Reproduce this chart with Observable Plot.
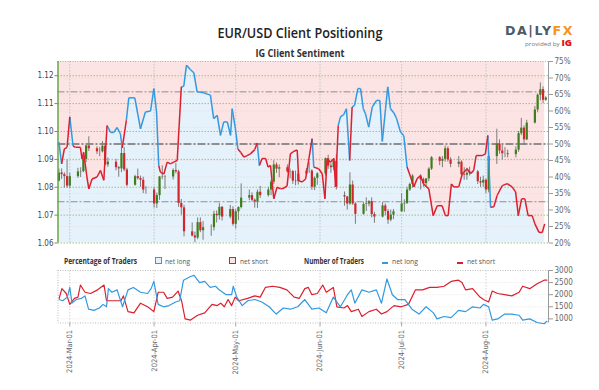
<!DOCTYPE html>
<html><head><meta charset="utf-8">
<script src="https://cdn.jsdelivr.net/npm/d3@7"></script>
<script src="https://cdn.jsdelivr.net/npm/@observablehq/plot@0.6"></script>
<style>
body{margin:0;background:#fff;font-family:"Open Sans",Lato,"DejaVu Sans",sans-serif;}
#wrap{position:relative;width:599px;height:390px;overflow:hidden;background:#fff;}
#wrap svg{position:absolute;left:0;top:0;}
.t{position:absolute;white-space:nowrap;line-height:1;}
.f{display:inline-block;white-space:nowrap;}
</style></head><body><div id="wrap">
<div class="t" style="left:0;width:599px;text-align:center;top:25px;font-size:15px;"><span class="f" id="title" style="font-weight:600;color:#222;"></span></div>
<div class="t" style="left:0;width:599px;text-align:center;top:48px;font-size:10.5px;"><span class="f" id="subtitle" style="font-weight:700;color:#333;"></span></div>
<div class="t" style="left:505px;top:25px;font-size:12.5px;"><span class="f" id="logo" style="font-weight:800;letter-spacing:1.5px;color:#4d5a68;font-family:'DejaVu Sans',sans-serif;">DA|LY<span style="color:#f7941d">FX</span></span></div>
<div class="t" style="left:525px;top:39px;font-size:8.5px;"><span class="f" id="provided" style="font-size:5.5px;color:#777;">provided by <span style="color:#e3111b;font-weight:800;font-size:8.5px">IG</span></span></div>
<div id="legend"></div>
</div>
<script>
// ---------- text ----------
const title = "EUR/USD Client Positioning";
const subtitle = "IG Client Sentiment";
const legendPctLabel = "Percentage of Traders";
const legendCountLabel = "Number of Traders";
const seriesLabels = ["net long", "net short"];

// ---------- ticks ----------
const priceTicks = [1.06, 1.07, 1.08, 1.09, 1.10, 1.11, 1.12];
const pctTicks = [20, 25, 30, 35, 40, 45, 50, 55, 60, 65, 70, 75];
const countTicks = [1000, 1500, 2000, 2500, 3000];
const monthTicks = ["2024-03-01", "2024-04-01", "2024-05-01", "2024-06-01", "2024-07-01", "2024-08-01"];
const sentimentLevels = [65.8, 32.5];
const midLevel = 50;

// ---------- price candles (weekdays from 2024-02-26) ----------
const firstTradingDay = "2024-02-26";
const opens = [
1.0822,1.0851,1.0845,1.0838,1.0804, 1.0838,1.0855,1.0856,1.0900,1.0948, 1.0938,1.0927,1.0927,1.0947,1.0880,
1.0890,1.0870,1.0866,1.0921,1.0862, 1.0807,1.0838,1.0831,1.0825,1.0790, 1.0790,1.0740,1.0770,1.0837,1.0836,
1.0837,1.0860,1.0855,1.0742,1.0726, 1.0640,1.0625,1.0618,1.0673,1.0644, 1.0655,1.0655,1.0703,1.0698,1.0728,
1.0693,1.0720,1.0667,1.0712,1.0727, 1.0761,1.0770,1.0753,1.0748,1.0782, 1.0770,1.0790,1.0818,1.0880,1.0865,
1.0870,1.0855,1.0856,1.0822,1.0820, 1.0847,1.0858,1.0858,1.0800,1.0832, 1.0848,1.0902,1.0876,1.0870,1.0893,
1.0770,1.0765,1.0740,1.0808,1.0740, 1.0703,1.0738,1.0740,1.0748,1.0702, 1.0693,1.0733,1.0713,1.0682,1.0700,
1.0712,1.0740,1.0742,1.0790,1.0810, 1.0840,1.0827,1.0813,1.0830,1.0865, 1.0906,1.0893,1.0900,1.0938,1.0898,
1.0882,1.0890,1.0845,1.0843,1.0850, 1.0855,1.0820,1.0815,1.0825,1.0790, 1.0910,1.0955,1.0930,1.0920,1.0920,
1.0917,1.0933,1.0992,1.1012,1.0970, 1.1030,1.1077,1.1130,1.1150,1.1112];
const highs = [
1.0865,1.0866,1.0852,1.0898,1.0850, 1.0868,1.0870,1.0912,1.0950,1.0981, 1.0945,1.0942,1.0964,1.0957,1.0905,
1.0900,1.0875,1.0943,1.0942,1.0868, 1.0843,1.0865,1.0840,1.0836,1.0802, 1.0800,1.0779,1.0838,1.0877,1.0842,
1.0866,1.0885,1.0861,1.0756,1.0735, 1.0672,1.0639,1.0690,1.0690,1.0677, 1.0665,1.0714,1.0715,1.0742,1.0731,
1.0735,1.0730,1.0720,1.0730,1.0812, 1.0790,1.0780,1.0758,1.0790,1.0803, 1.0800,1.0825,1.0895,1.0887,1.0880,
1.0880,1.0865,1.0860,1.0858,1.0858, 1.0867,1.0889,1.0863,1.0837,1.0852, 1.0905,1.0915,1.0887,1.0902,1.0916,
1.0783,1.0767,1.0852,1.0822,1.0745, 1.0745,1.0762,1.0752,1.0762,1.0710, 1.0745,1.0740,1.0720,1.0718,1.0720,
1.0777,1.0755,1.0800,1.0815,1.0845, 1.0845,1.0833,1.0830,1.0870,1.0910, 1.0910,1.0910,1.0948,1.0945,1.0906,
1.0910,1.0895,1.0870,1.0868,1.0872, 1.0860,1.0836,1.0840,1.0830,1.0926, 1.1008,1.0970,1.0950,1.0942,1.0933,
1.0945,1.1000,1.1047,1.1020,1.1040, 1.1090,1.1135,1.1174,1.1160,1.1125];
const lows = [
1.0819,1.0828,1.0797,1.0796,1.0795, 1.0832,1.0835,1.0852,1.0888,1.0928, 1.0917,1.0910,1.0923,1.0877,1.0871,
1.0859,1.0836,1.0852,1.0856,1.0801, 1.0804,1.0826,1.0800,1.0777,1.0775, 1.0725,1.0724,1.0753,1.0827,1.0792,
1.0826,1.0848,1.0728,1.0700,1.0622, 1.0622,1.0601,1.0612,1.0637,1.0610, 1.0624,1.0643,1.0672,1.0682,1.0679,
1.0686,1.0660,1.0650,1.0680,1.0722, 1.0752,1.0747,1.0725,1.0724,1.0760, 1.0765,1.0770,1.0810,1.0850,1.0834,
1.0850,1.0830,1.0810,1.0805,1.0808, 1.0845,1.0850,1.0789,1.0788,1.0807, 1.0840,1.0864,1.0850,1.0859,1.0790,
1.0732,1.0718,1.0735,1.0735,1.0667, 1.0700,1.0713,1.0730,1.0690,1.0671, 1.0690,1.0698,1.0667,1.0676,1.0684,
1.0710,1.0710,1.0738,1.0785,1.0797, 1.0790,1.0800,1.0800,1.0820,1.0860, 1.0877,1.0870,1.0890,1.0890,1.0870,
1.0870,1.0840,1.0825,1.0825,1.0840, 1.0810,1.0800,1.0800,1.0777,1.0780, 1.0882,1.0918,1.0897,1.0906,1.0905,
1.0905,1.0925,1.0985,1.0950,1.0967, 1.1027,1.1067,1.1110,1.1100,1.1108];
const closes = [
1.0851,1.0845,1.0838,1.0804,1.0838, 1.0855,1.0856,1.0900,1.0948,1.0938, 1.0927,1.0927,1.0947,1.0880,1.0890,
1.0870,1.0866,1.0921,1.0862,1.0807, 1.0838,1.0831,1.0825,1.0790,1.0790, 1.0740,1.0770,1.0837,1.0836,1.0837,
1.0860,1.0855,1.0742,1.0726,1.0640, 1.0625,1.0618,1.0673,1.0644,1.0655, 1.0655,1.0703,1.0698,1.0728,1.0693,
1.0720,1.0667,1.0712,1.0727,1.0761, 1.0770,1.0753,1.0748,1.0782,1.0770, 1.0790,1.0818,1.0880,1.0865,1.0870,
1.0855,1.0856,1.0822,1.0820,1.0847, 1.0858,1.0858,1.0800,1.0832,1.0848, 1.0902,1.0876,1.0870,1.0893,1.0800,
1.0765,1.0740,1.0808,1.0740,1.0703, 1.0738,1.0740,1.0748,1.0702,1.0693, 1.0733,1.0713,1.0682,1.0700,1.0712,
1.0740,1.0742,1.0790,1.0810,1.0840, 1.0827,1.0813,1.0830,1.0865,1.0906, 1.0893,1.0900,1.0938,1.0898,1.0882,
1.0890,1.0845,1.0843,1.0850,1.0855, 1.0820,1.0815,1.0825,1.0790,1.0910, 1.0955,1.0930,1.0920,1.0920,1.0917,
1.0933,1.0992,1.1012,1.0970,1.1030, 1.1077,1.1130,1.1150,1.1112,1.1120];

// ---------- client sentiment: % of traders net long [days after 2024-03-01, %] ----------
const sentimentPct = [
[-4,50.6],[-3,44.0],[-2,48.5],[-1,49.0],[0,58.2],[1.2,49.4],[2.1,49.0],[3.9,49.0],[4.5,45.5],[5.1,47.5],
[6.4,39.4],[7,36.4],[8.2,39.4],[10,40],[11.3,42],[12.5,39],[13.7,55.6],[15,53.5],[16.2,53.5],[17.4,55],
[18.6,53.1],[19.3,48.8],[20.8,57.2],[21.7,64],[23.9,64],[26,54.6],[27.8,59.7],[29.7,60],[30.9,66.8],[31.9,59.7],
[32.7,43.5],[33.3,41.5],[34.6,40.9],[35.8,44.5],[37,44],[38.2,44.5],[39.5,45],[41,67.3],[41.9,67.5],[42.9,73.9],
[44.4,72.5],[45.6,71.6],[46.8,65.8],[49.3,65.5],[51.7,64.8],[52.9,57.7],[54.2,58.7],[55.4,52.6],[56.6,56.7],[57.9,56.7],
[59.1,52.6],[59.7,60.7],[60.9,54.6],[61.8,48.5],[62.8,47.5],[64,46.0],[65.2,46.5],[66.4,47],[68,48.3],[68.9,50.3],
[69.7,43.5],[70.7,45.6],[72,45.6],[72.9,43],[73.8,43.5],[75,33.4],[76.2,36.9],[77.5,36.4],[78.7,36.6],[79.9,37.3],
[81.1,47],[82.4,47.8],[83.6,48.2],[84.2,38.9],[85.4,38.5],[86.7,39.4],[87.9,45.5],[89.1,51.6],[89.7,43],[91.5,42.5],
[92.8,41],[93.8,33.4],[94.6,45.6],[95.8,44.5],[97.1,45.6],[97.7,37],[98.7,55.6],[99.5,58.2],[100.7,58.9],[101.7,60.7],
[102.9,45],[103.8,61.2],[104.7,61.7],[105.9,66.8],[106.9,66.8],[107.9,60.7],[108.7,59.2],[109.9,55.1],[111.2,61.2],[112.8,63.2],
[114,63.2],[114.9,50.8],[116.1,60.7],[116.9,67.3],[117.9,60.7],[119.1,59.5],[120.1,57.8],[121.6,53.6],[122.8,52.5],[124,43],
[125.3,40],[126.5,37],[127.7,39.5],[128.9,40.4],[130.1,37.9],[132,36.4],[133.6,28.3],[135.1,31.3],[136.9,31.3],[138.1,28.3],
[139.1,28.3],[140.3,37.9],[141.2,37],[143,37],[144.3,40.9],[146.1,42.5],[147.3,41],[148.5,42],[149.4,46.5],[151.6,46.5],
[152.8,47],[153.7,52.6],[154.7,30.8],[155.9,31],[157.1,34.4],[159,37.4],[160.8,38],[162.6,37],[163.9,35.5],[164.9,28.3],
[166.1,33.4],[167.3,33.4],[168.5,28.3],[170,28.3],[171,25.8],[172.5,23.2],[173.7,23.2],[174.6,25.8]];

// ---------- number of traders [days after 2024-03-01, count] ----------
const netLongCount = [
[-3.9,1800],[-2.6,1750],[-0.9,1900],[0,2300],[0.8,1650],[2.4,1800],[4.3,1850],[5.6,1950],[6.9,1400],[8.9,1350],
[10.9,1450],[12.2,1600],[13.5,1500],[14.2,2250],[15.5,2100],[17.4,2200],[19.4,1500],[21.4,2200],[23.4,2300],[26,2100],
[28.6,2050],[29.9,2250],[30.9,2550],[32.5,1600],[34.5,1500],[36.5,1550],[38.9,1700],[40.4,1750],[41.8,2600],[44.4,2750],
[45.7,2800],[47.7,2500],[49.6,2550],[51.6,2300],[53.6,2350],[54.9,2200],[57.5,2000],[59.5,2000],[60.1,2350],[61.4,1900],
[63.4,1550],[65.4,1750],[68,1800],[70.6,1700],[73.3,1500],[75.9,1200],[78.5,1450],[81.1,1400],[83.8,1500],[86.4,1800],
[89,1400],[91.6,1450],[94.3,1250],[96.9,1900],[99.5,1500],[102.1,2000],[103.5,2200],[104.8,1650],[107.4,2200],[110,2100],
[112.7,2200],[114.6,1650],[116.6,2650],[118.6,2000],[120.5,1800],[123.2,1800],[125.8,1400],[128.4,1200],[131,1500],[133.7,1250],
[135,1000],[137.6,1100],[140.2,1050],[142.9,1350],[145.5,1300],[148.1,1500],[150.8,1450],[152.1,1600],[154,1500],[155.3,950],
[157.3,1000],[159.9,1200],[162.5,1200],[165.2,1150],[166.5,950],[169.1,1000],[171.8,850],[174.4,800],[175.4,900]];
const netShortCount = [
[-3.9,1850],[-2.9,2250],[-1.3,2050],[0,1600],[1.7,1850],[3,1900],[3.9,2400],[5.6,2100],[7.6,2050],[10.2,2200],
[12.6,2400],[13.5,1750],[15.5,1750],[18.8,1750],[19.7,1950],[21.4,1300],[23.6,1250],[26,1650],[28.6,1500],[30.9,1300],
[32.5,2100],[34.5,2100],[35.8,1850],[37.8,1900],[39.8,2150],[41.1,1750],[42.4,1000],[44.4,950],[47,1150],[49.6,1250],
[52.3,1600],[54.2,1550],[55.5,1650],[56.8,1500],[58.2,1800],[59.5,1550],[60.8,1900],[62.1,1750],[65.4,1850],[68,1950],
[70,1900],[71.9,2300],[74.6,2350],[77.2,2300],[79.8,2200],[82.5,1900],[84.4,1850],[86.4,2250],[87.7,2300],[89,2000],
[91,2050],[93,2400],[94.3,2100],[96.9,2300],[98.2,1500],[100.8,1450],[102.1,1550],[103.5,1300],[106.1,1400],[107.4,1100],
[110,1300],[112.7,1400],[114.6,1200],[116.6,1300],[119.2,1550],[121.8,1500],[124.5,1600],[127.1,2200],[129.7,2200],[132.3,2300],
[135,2300],[137.6,2350],[140.2,2550],[142.9,2600],[144.2,2500],[145.5,2200],[148.1,2250],[150.8,1900],[152.1,1800],[154,1700],
[155.3,2150],[157.3,2050],[159.9,2000],[162.5,1950],[165.2,2100],[166.5,2350],[169.1,2250],[171.8,2450],[174.4,2600],[175.4,2600]];

// ---------- colours ----------
const C = {
  blue: "#3399e0", red: "#dc1f2e", fillBlue: "#e5f2fb", fillPink: "#fce4e4",
  up: "#3f7d1e", down: "#d3262b", wick: "#7c7c7c", green: "#5f9e38", gridGreen: "#9cc47c"
};

// ---------- build tables ----------
const dayMs = 864e5;
const t0 = Date.UTC(2024, 2, 1);
const atDay = d => new Date(t0 + d * dayMs);
const tradingDays = d3.utcDays(new Date(firstTradingDay + "T00:00Z"), new Date("2024-08-24T00:00Z"))
  .filter(d => d.getUTCDay() !== 0 && d.getUTCDay() !== 6);
const candles = opens.map((o, i) => ({date: tradingDays[i], open: o, high: highs[i], low: lows[i], close: closes[i]}));
const sent = sentimentPct.map(([d, v]) => ({date: atDay(d), pct: v}));
const segs = sent.slice(1).map((p, i) => ({d1: sent[i].date, v1: sent[i].pct, d2: p.date, v2: p.pct, long: sent[i].pct >= midLevel}));
const longSeries = netLongCount.map(([d, v]) => ({date: atDay(d), v}));
const shortSeries = netShortCount.map(([d, v]) => ({date: atDay(d), v}));
const months = monthTicks.map(s => new Date(s + "T00:00Z"));

const xDom = [new Date("2024-02-25T16:00Z"), new Date("2024-08-24T00:00Z")];
const font = "'Liberation Sans Narrow','DejaVu Sans Condensed',Roboto,'Liberation Sans',sans-serif";
const common = {width: 599, marginLeft: 57.5, marginRight: 51,
  style: {background: "transparent", overflow: "visible", fontFamily: font, fontSize: "8px"}};
const mainBox = {height: 250, marginTop: 61, marginBottom: 7.5};

// layer 1: sentiment fills, reference lines, right % axis
const layer1 = Plot.plot({...common, ...mainBox,
  x: {type: "utc", domain: xDom, axis: null},
  y: {domain: [20, 75]},
  marks: [
    Plot.areaY(sent, {x: "date", y1: 20, y2: "pct", fill: C.fillBlue}),
    Plot.areaY(sent, {x: "date", y1: "pct", y2: 75, fill: C.fillPink}),
    Plot.ruleY(pctTicks.slice(1, -1), {stroke: "#f0c4c4", strokeDasharray: "1,2", strokeOpacity: 0.5}),
    Plot.ruleX(months, {stroke: "#c4c4c4", strokeDasharray: "1.5,1.5"}),
    Plot.ruleY(sentimentLevels, {stroke: "#8e8e8e", strokeDasharray: "7,2,2,2"}),
    Plot.ruleY([midLevel], {stroke: "#707070", strokeWidth: 1.3, strokeDasharray: "8,2,2,2"}),
    Plot.ruleY([75], {stroke: "#b0b0b0", strokeDasharray: "1,1.5"}),
    Plot.ruleX([xDom[1]], {stroke: "#9a9a9a"}),
    Plot.axisY({anchor: "right", label: null, ticks: pctTicks, tickFormat: d => d + "%", tickSize: 4, tickPadding: 2,
      stroke: "#9a9a9a", fill: "#666", fontSize: 8})
  ]});

// layer 2: price grid, candles, left price axis
const layer2 = Plot.plot({...common, ...mainBox,
  x: {type: "utc", domain: xDom, axis: null},
  y: {domain: [1.06, 1.1251]},
  marks: [
    Plot.ruleY(priceTicks, {stroke: C.gridGreen, strokeDasharray: "1.5,1.5"}),
    Plot.ruleX(candles, {x: "date", y1: "low", y2: "high", stroke: C.wick, strokeWidth: 1}),
    Plot.ruleX(candles.filter(d => d.close >= d.open), {x: "date", y1: "open", y2: "close", stroke: C.up, strokeWidth: 2.2}),
    Plot.ruleX(candles.filter(d => d.close < d.open), {x: "date", y1: "open", y2: "close", stroke: C.down, strokeWidth: 2.2}),
    Plot.ruleX([xDom[0]], {stroke: C.green, strokeWidth: 1.4}),
    Plot.axisY({anchor: "left", label: null, ticks: priceTicks, tickFormat: d => d.toFixed(2), tickSize: 3, tickPadding: 1.5,
      stroke: C.green, fill: "#444", fontSize: 8})
  ]});

// layer 3: sentiment line
const layer3 = Plot.plot({...common, ...mainBox,
  x: {type: "utc", domain: xDom, axis: null},
  y: {domain: [20, 75], axis: null},
  marks: [
    Plot.link(segs.filter(s => s.long), {x1: "d1", y1: "v1", x2: "d2", y2: "v2", stroke: C.blue, strokeWidth: 1.5}),
    Plot.link(segs.filter(s => !s.long), {x1: "d1", y1: "v1", x2: "d2", y2: "v2", stroke: C.red, strokeWidth: 1.5})
  ]});

// bottom panel: number of traders
const countMin = 830, countMax = 3000;
const layer4 = Plot.plot({...common, height: 390, marginTop: 270, marginBottom: 67.5,
  x: {type: "utc", domain: xDom},
  y: {domain: [countMin, countMax]},
  marks: [
    Plot.ruleY(countTicks.slice(0, -1), {stroke: "#e2e2e2", strokeDasharray: "1,2"}),
    Plot.ruleY([countMax, countMin], {stroke: "#bdbdbd", strokeDasharray: "1,1.5"}),
    Plot.ruleX([xDom[0]], {stroke: "#bdbdbd", strokeDasharray: "1,1.5"}),
    Plot.ruleX(months, {stroke: "#d2d2d2", strokeDasharray: "1.5,1.5"}),
    Plot.ruleX([xDom[1]], {stroke: "#9a9a9a"}),
    Plot.line(shortSeries, {x: "date", y: "v", stroke: C.red, strokeWidth: 1.2}),
    Plot.line(longSeries, {x: "date", y: "v", stroke: C.blue, strokeWidth: 1.2}),
    Plot.axisY({anchor: "right", label: null, ticks: countTicks, tickSize: 4, tickPadding: 2, tickFormat: d => String(d),
      stroke: "#9a9a9a", fill: "#666", fontSize: 8}),
    Plot.axisX({label: null, ticks: months, tickFormat: d3.utcFormat("%Y-%b-%d"), tickRotate: -90, tickSize: 4, tickPadding: 3,
      stroke: "#aaa", fill: "#666", fontSize: 7.5})
  ]});

const wrap = document.getElementById("wrap");
[layer1, layer2, layer3, layer4].forEach(s => wrap.appendChild(s));
document.getElementById("title").textContent = title;
document.getElementById("subtitle").textContent = subtitle;

// squeeze a text box horizontally to the width it has in the reference
function fitWidth(el, target, origin) {
  const w = el.getBoundingClientRect().width;
  if (w > 0) { el.style.transformOrigin = origin || "left center"; el.style.transform = `scaleX(${target / w})`; }
}

// legend (HTML)
const lg = document.getElementById("legend");
const ly = 256.5;
function piece(left, html, css, target) {
  const d = document.createElement("div"); d.className = "t";
  d.style.cssText += `left:${left}px;top:${ly}px;font-size:8px;`;
  const s = document.createElement("span"); s.className = "f"; s.innerHTML = html; s.style.cssText = css || "";
  d.appendChild(s); lg.appendChild(d);
  if (target) fitWidth(s, target);
  return d;
}
const boldCss = "font-size:8.5px;font-weight:700;color:#333;";
const txtCss = "font-size:8px;color:#555;";
piece(64, legendPctLabel, boldCss, 73);
piece(155, "", `width:5px;height:5px;border:1.2px solid ${C.blue};background:${C.fillBlue};margin-top:0.5px`);
piece(165, seriesLabels[0], txtCss, 25);
piece(229, "", `width:5px;height:5px;border:1.2px solid ${C.red};background:${C.fillPink};margin-top:0.5px`);
piece(240, seriesLabels[1], txtCss, 28);
piece(304, legendCountLabel, boldCss, 60);
piece(382, "", `width:6px;height:1.4px;background:${C.blue};margin-top:3.5px`);
piece(392, seriesLabels[0], txtCss, 26);
piece(457, "", `width:6px;height:1.4px;background:${C.red};margin-top:3.5px`);
piece(467, seriesLabels[1], txtCss, 28);

fitWidth(document.getElementById("title"), 165, "center center");
fitWidth(document.getElementById("subtitle"), 89, "center center");
fitWidth(document.getElementById("logo"), 69, "left center");
fitWidth(document.getElementById("provided"), 47, "left center");
</script></body></html>
